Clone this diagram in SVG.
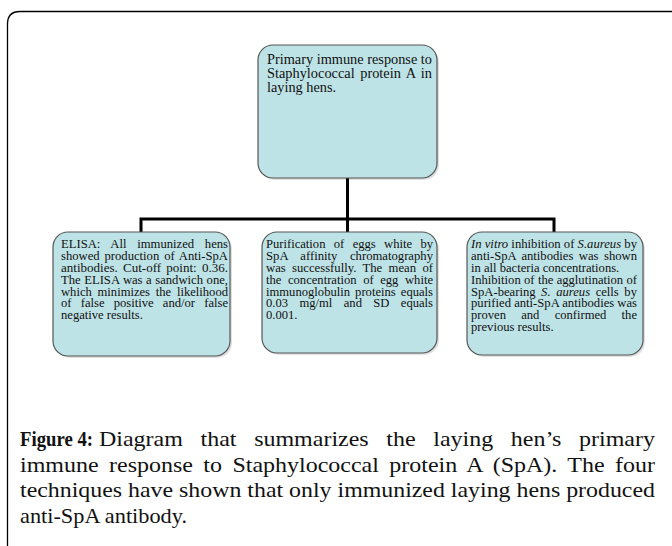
<svg xmlns="http://www.w3.org/2000/svg" width="672" height="546" viewBox="0 0 672 546">
<style>
.box{fill:#bee3e6;stroke:#555;stroke-width:1.2}
.sh{fill:#000;opacity:0.12}
.t{font-family:"Liberation Serif","Times New Roman",serif;fill:#111}
.s{font-size:12.6px}
.b{font-size:14.3px}
.cap{font-family:"Liberation Serif","Times New Roman",serif;font-size:21px;fill:#111}
.conn{stroke:#000;stroke-width:3;fill:none}
</style>
<rect width="672" height="546" fill="#fff"/>
<path d="M7.5,546 L7.5,24 Q7.5,11.5 20,11.5 L672,11.5" fill="none" stroke="#000" stroke-width="1.3"/>
<g id="connectors">
<path class="conn" d="M347.5,178 L347.5,232"/>
<path class="conn" d="M141,232 L141,219 L554,219 L554,232"/>
</g>
<g id="top">
<rect class="sh" x="260" y="47" width="179" height="133" rx="15"/>
<rect class="box" x="258" y="45" width="179" height="133" rx="15"/>
<text class="t b" x="267" y="64" textLength="165" lengthAdjust="spacingAndGlyphs">Primary immune response to</text>
<text class="t b" x="267" y="78" word-spacing="2" textLength="165" lengthAdjust="spacingAndGlyphs">Staphylococcal protein A in</text>
<text class="t b" x="267" y="92">laying hens.</text>
</g>
<g id="elisa">
<rect class="sh" x="55" y="234" width="177" height="124" rx="15"/>
<rect class="box" x="53" y="232" width="177" height="124" rx="15"/>
<text class="t s" x="61" y="248" word-spacing="7.5" textLength="167" lengthAdjust="spacingAndGlyphs">ELISA: All immunized hens</text>
<text class="t s" x="61" y="260" word-spacing="1.7" textLength="167" lengthAdjust="spacingAndGlyphs">showed production of Anti-SpA</text>
<text class="t s" x="61" y="272" word-spacing="1.9" textLength="167" lengthAdjust="spacingAndGlyphs">antibodies.  Cut-off point: 0.36.</text>
<text class="t s" x="61" y="283.5" word-spacing="0.4" textLength="167" lengthAdjust="spacingAndGlyphs">The ELISA was a sandwich one,</text>
<text class="t s" x="61" y="295.5" word-spacing="2.6" textLength="167" lengthAdjust="spacingAndGlyphs">which minimizes the likelihood</text>
<text class="t s" x="61" y="307" word-spacing="6" textLength="167" lengthAdjust="spacingAndGlyphs">of false positive and/or false</text>
<text class="t s" x="61" y="319">negative results.</text>
</g>
<g id="purification">
<rect class="sh" x="264" y="234" width="175" height="121" rx="15"/>
<rect class="box" x="262" y="232" width="175" height="121" rx="15"/>
<text class="t s" x="266" y="248" word-spacing="5.2" textLength="167" lengthAdjust="spacingAndGlyphs">Purification of eggs white by</text>
<text class="t s" x="266" y="260" word-spacing="9.3" textLength="167" lengthAdjust="spacingAndGlyphs">SpA affinity chromatography</text>
<text class="t s" x="266" y="272" word-spacing="3.2" textLength="167" lengthAdjust="spacingAndGlyphs">was successfully. The mean of</text>
<text class="t s" x="266" y="283.5" word-spacing="3.4" textLength="167" lengthAdjust="spacingAndGlyphs">the concentration of egg white</text>
<text class="t s" x="266" y="295.5" word-spacing="1.9" textLength="167" lengthAdjust="spacingAndGlyphs">immunoglobulin proteins equals</text>
<text class="t s" x="266" y="307" word-spacing="8.2" textLength="167" lengthAdjust="spacingAndGlyphs">0.03 mg/ml and SD equals</text>
<text class="t s" x="266" y="319">0.001.</text>
</g>
<g id="invitro">
<rect class="sh" x="469" y="234" width="176" height="123" rx="15"/>
<rect class="box" x="467" y="232" width="176" height="123" rx="15"/>
<text class="t s" x="471" y="248" textLength="166" lengthAdjust="spacingAndGlyphs"><tspan font-style="italic">In vitro</tspan> inhibition of <tspan font-style="italic">S.aureus</tspan> by</text>
<text class="t s" x="471" y="260" word-spacing="2.3" textLength="166" lengthAdjust="spacingAndGlyphs">anti-SpA antibodies was shown</text>
<text class="t s" x="471" y="272">in all bacteria concentrations.</text>
<text class="t s" x="471" y="283.5" word-spacing="0.2" textLength="166" lengthAdjust="spacingAndGlyphs">Inhibition of the agglutination of</text>
<text class="t s" x="471" y="295.5" word-spacing="2.4" textLength="166" lengthAdjust="spacingAndGlyphs">SpA-bearing <tspan font-style="italic">S. aureus</tspan> cells by</text>
<text class="t s" x="471" y="307" textLength="166" lengthAdjust="spacingAndGlyphs">purified anti-SpA antibodies was</text>
<text class="t s" x="471" y="319" word-spacing="12.1" textLength="166" lengthAdjust="spacingAndGlyphs">proven and confirmed the</text>
<text class="t s" x="471" y="331">previous results.</text>
</g>
<g id="caption">
<text class="cap" x="20" y="446" font-weight="bold" textLength="73" lengthAdjust="spacingAndGlyphs">Figure 4:</text>
<text class="cap" x="99" y="446" word-spacing="10.2" textLength="556" lengthAdjust="spacingAndGlyphs">Diagram that summarizes the laying hen’s primary</text>
<text class="cap" x="20" y="471.5" word-spacing="3.9" textLength="635" lengthAdjust="spacingAndGlyphs">immune response to Staphylococcal protein A (SpA). The four</text>
<text class="cap" x="20" y="497" textLength="635" lengthAdjust="spacingAndGlyphs">techniques have shown that only immunized laying hens produced</text>
<text class="cap" x="20" y="522.5" textLength="167" lengthAdjust="spacingAndGlyphs">anti-SpA antibody.</text>
</g>
</svg>
